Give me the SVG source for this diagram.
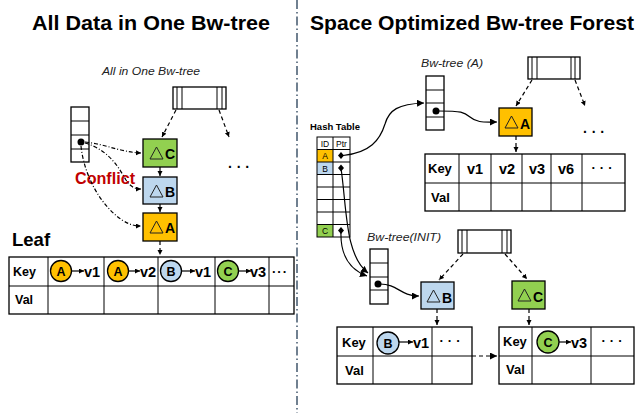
<svg xmlns="http://www.w3.org/2000/svg" width="637" height="413" viewBox="0 0 637 413">
<defs>
<marker id="ah" markerUnits="userSpaceOnUse" markerWidth="8" markerHeight="8" refX="7" refY="3.5" orient="auto"><path d="M0,0 L7,3.5 L0,7 z" fill="#000"/></marker>
<marker id="ahs" markerUnits="userSpaceOnUse" markerWidth="6" markerHeight="6" refX="5" refY="2.5" orient="auto"><path d="M0,0 L5,2.5 L0,5 z" fill="#000"/></marker>
</defs>
<style>
text{font-family:"Liberation Sans",Arial,sans-serif;fill:#000}
.title{font-size:21px;font-weight:bold}
.it{font-size:11px;font-style:italic;fill:#222}
.b{font-weight:bold}
.cell{fill:#fff;stroke:#000;stroke-width:1.3}
.thin{stroke:#000;stroke-width:1;fill:none}
.dd{stroke:#000;stroke-width:1.2;fill:none;stroke-dasharray:4,2,1,2}
.dash{stroke:#000;stroke-width:1.2;fill:none;stroke-dasharray:4,3}
.sol{stroke:#000;stroke-width:1.2;fill:none}
.dA{fill:#FFC000;stroke:#000;stroke-width:1.3}
.dB{fill:#BDD7EE;stroke:#000;stroke-width:1.3}
.dC{fill:#92D050;stroke:#000;stroke-width:1.3}
.tri{fill:none;stroke:#222;stroke-width:1}
.dl{font-size:14px;font-weight:bold}
.k{font-size:13px;font-weight:bold}
.v{font-size:14.5px;font-weight:bold}
.ck{font-size:12.5px;font-weight:bold}
</style>

<!-- divider -->
<line x1="297" y1="0" x2="297" y2="413" stroke="#708090" stroke-width="2" stroke-dasharray="9,3,1.5,3"/>

<!-- titles -->
<text class="title" x="32" y="30" textLength="238" lengthAdjust="spacingAndGlyphs">All Data in One Bw-tree</text>
<text class="title" x="310" y="30" textLength="324" lengthAdjust="spacingAndGlyphs">Space Optimized Bw-tree Forest</text>

<!-- ===== LEFT ===== -->
<text class="it" x="102" y="75" textLength="98" lengthAdjust="spacingAndGlyphs">All in One Bw-tree</text>

<g id="left-map">
<rect class="cell" x="71" y="107" width="18" height="55"/>
<line class="thin" x1="71" y1="121" x2="89" y2="121"/>
<line class="thin" x1="71" y1="135" x2="89" y2="135"/>
<line class="thin" x1="71" y1="149" x2="89" y2="149"/>
<circle cx="81" cy="142" r="3.5" fill="#000"/>
</g>

<g id="left-header">
<rect class="cell" x="173" y="87" width="53" height="22"/>
<line class="thin" x1="177" y1="87" x2="177" y2="109"/>
<line class="thin" x1="182" y1="87" x2="182" y2="109"/>
<line class="thin" x1="217" y1="87" x2="217" y2="109"/>
<line class="thin" x1="222" y1="87" x2="222" y2="109"/>
</g>

<g id="left-dC">
<rect class="dC" x="143" y="139" width="34" height="28"/>
<path class="tri" d="M150,159 L156.5,147 L163,159 Z"/>
<text class="dl" x="165" y="159">C</text>
</g>
<g id="left-dB">
<rect class="dB" x="143" y="177" width="34" height="27"/>
<path class="tri" d="M150,197 L156.5,185 L163,197 Z"/>
<text class="dl" x="165" y="197">B</text>
</g>
<g id="left-dA">
<rect class="dA" x="143" y="213" width="34" height="28"/>
<path class="tri" d="M150,233 L156.5,221 L163,233 Z"/>
<text class="dl" x="165" y="233">A</text>
</g>

<text x="228" y="172" font-size="14" class="b" letter-spacing="4">···</text>

<text x="75" y="184" font-size="16" font-weight="bold" style="fill:#C00000" textLength="60" lengthAdjust="spacingAndGlyphs">Conflict</text>

<text x="12" y="246" font-size="18.5" class="b">Leaf</text>

<g id="leaf-table">
<rect class="cell" x="9" y="257" width="285" height="57"/>
<line class="thin" x1="9" y1="286" x2="294" y2="286"/>
<line class="thin" x1="48" y1="257" x2="48" y2="314"/>
<line class="thin" x1="104" y1="257" x2="104" y2="314"/>
<line class="thin" x1="158" y1="257" x2="158" y2="314"/>
<line class="thin" x1="215" y1="257" x2="215" y2="314"/>
<line class="thin" x1="269" y1="257" x2="269" y2="314"/>
<text class="ck" x="13" y="276">Key</text>
<text class="ck" x="15" y="304">Val</text>
<circle class="dA" cx="61" cy="271" r="10.5"/><text class="ck" x="61" y="275.5" text-anchor="middle">A</text>
<line class="sol" x1="72" y1="271" x2="84" y2="271" marker-end="url(#ahs)"/>
<text class="v" x="84" y="276.5">v1</text>
<circle class="dA" cx="118" cy="271" r="10.5"/><text class="ck" x="118" y="275.5" text-anchor="middle">A</text>
<line class="sol" x1="129" y1="271" x2="140" y2="271" marker-end="url(#ahs)"/>
<text class="v" x="140" y="276.5">v2</text>
<circle class="dB" cx="171" cy="271" r="10.5"/><text class="ck" x="171" y="275.5" text-anchor="middle">B</text>
<line class="sol" x1="182" y1="271" x2="195" y2="271" marker-end="url(#ahs)"/>
<text class="v" x="195" y="276.5">v1</text>
<circle class="dC" cx="228" cy="271" r="10.5"/><text class="ck" x="228" y="275.5" text-anchor="middle">C</text>
<line class="sol" x1="239" y1="271" x2="251" y2="271" marker-end="url(#ahs)"/>
<text class="v" x="250" y="276.5">v3</text>
<text class="k" x="272" y="276" letter-spacing="1">···</text>
</g>

<g id="left-connectors">
<path class="dd" d="M85,142 C105,144 120,152 141,153" marker-end="url(#ahs)"/>
<path class="dd" d="M85,143 C110,150 120,170 126,180 C130,186 134,189 141,189" marker-end="url(#ahs)"/>
<path class="dd" d="M81,146 C84,175 100,205 122,220 C130,225 135,226 141,226" marker-end="url(#ahs)"/>
<line class="dash" x1="176" y1="110" x2="162" y2="137" marker-end="url(#ahs)"/>
<line class="dash" x1="219" y1="110" x2="229" y2="137" marker-end="url(#ahs)"/>
<line class="sol" x1="160" y1="167" x2="160" y2="176" stroke-width="1" marker-end="url(#ahs)"/>
<line class="sol" x1="160" y1="204" x2="160" y2="212" stroke-width="1" marker-end="url(#ahs)"/>
<line class="dash" x1="160" y1="241" x2="160" y2="255" stroke-width="1" stroke-dasharray="2,2" marker-end="url(#ahs)"/>
</g>

<!-- ===== RIGHT ===== -->
<text class="it" x="421" y="67" textLength="62" lengthAdjust="spacingAndGlyphs">Bw-tree (A)</text>

<g id="mapA">
<rect class="cell" x="426" y="76" width="18" height="54"/>
<line class="thin" x1="426" y1="90" x2="444" y2="90"/>
<line class="thin" x1="426" y1="103" x2="444" y2="103"/>
<line class="thin" x1="426" y1="117" x2="444" y2="117"/>
<circle cx="436" cy="111" r="3.5" fill="#000"/>
</g>

<g id="headerA">
<rect class="cell" x="528" y="57" width="52" height="22"/>
<line class="thin" x1="532" y1="57" x2="532" y2="79"/>
<line class="thin" x1="537" y1="57" x2="537" y2="79"/>
<line class="thin" x1="571" y1="57" x2="571" y2="79"/>
<line class="thin" x1="575" y1="57" x2="575" y2="79"/>
</g>

<g id="right-dA">
<rect class="dA" x="499" y="108" width="33" height="28"/>
<path class="tri" d="M505,128 L511.5,116 L518,128 Z"/>
<text class="dl" x="520" y="129">A</text>
</g>

<text x="583" y="137" font-size="14" class="b" letter-spacing="4">···</text>

<g id="tableA">
<rect class="cell" x="425" y="154" width="200" height="57"/>
<line class="thin" x1="425" y1="183" x2="625" y2="183"/>
<line class="thin" x1="459" y1="154" x2="459" y2="211"/>
<line class="thin" x1="491" y1="154" x2="491" y2="211"/>
<line class="thin" x1="522" y1="154" x2="522" y2="211"/>
<line class="thin" x1="551" y1="154" x2="551" y2="211"/>
<line class="thin" x1="582" y1="154" x2="582" y2="211"/>
<text class="k" x="428" y="173" font-size="14">Key</text>
<text class="k" x="431" y="202" font-size="14">Val</text>
<text class="v" x="475" y="174" text-anchor="middle">v1</text>
<text class="v" x="507" y="174" text-anchor="middle">v2</text>
<text class="v" x="537" y="174" text-anchor="middle">v3</text>
<text class="v" x="566" y="174" text-anchor="middle">v6</text>
<text class="k" x="604" y="172" font-size="14" text-anchor="middle" letter-spacing="4">···</text>
</g>

<text x="310" y="130" font-size="9.5" class="b">Hash Table</text>
<g id="hash-table">
<rect x="317" y="149.5" width="16" height="12.5" fill="#FFC000"/>
<rect x="317" y="162" width="16" height="12.5" fill="#BDD7EE"/>
<rect x="317" y="224.5" width="16" height="12.5" fill="#92D050"/>
<rect class="thin" x="317" y="137" width="33" height="100" stroke-width="1.2"/>
<line class="thin" x1="333" y1="137" x2="333" y2="237"/>
<line class="thin" x1="317" y1="149.5" x2="350" y2="149.5"/>
<line class="thin" x1="317" y1="162" x2="350" y2="162"/>
<line class="thin" x1="317" y1="174.5" x2="350" y2="174.5"/>
<line class="thin" x1="317" y1="187" x2="350" y2="187"/>
<line class="thin" x1="317" y1="199.5" x2="350" y2="199.5"/>
<line class="thin" x1="317" y1="212" x2="350" y2="212"/>
<line class="thin" x1="317" y1="224.5" x2="350" y2="224.5"/>
<text x="325" y="147" font-size="8.5" text-anchor="middle">ID</text>
<text x="341.5" y="147" font-size="8.5" text-anchor="middle">Ptr</text>
<text x="325" y="159" font-size="8.5" text-anchor="middle">A</text>
<text x="325" y="171.5" font-size="8.5" text-anchor="middle">B</text>
<text x="325" y="234" font-size="8.5" text-anchor="middle">C</text>
<path d="M341,152 L344,155.5 L341,159 L338,155.5 Z" fill="#000"/>
<path d="M341,164.5 L344,168 L341,171.5 L338,168 Z" fill="#000"/>
<path d="M341,227 L344,230.5 L341,234 L338,230.5 Z" fill="#000"/>
</g>

<text class="it" x="367" y="241" textLength="74" lengthAdjust="spacingAndGlyphs">Bw-tree(INIT)</text>

<g id="mapINIT">
<rect class="cell" x="370" y="249" width="18" height="55"/>
<line class="thin" x1="370" y1="263" x2="388" y2="263"/>
<line class="thin" x1="370" y1="277" x2="388" y2="277"/>
<line class="thin" x1="370" y1="290" x2="388" y2="290"/>
<circle cx="378" cy="284" r="3.5" fill="#000"/>
</g>

<g id="headerINIT">
<rect class="cell" x="458" y="230" width="53" height="23"/>
<line class="thin" x1="462" y1="230" x2="462" y2="253"/>
<line class="thin" x1="467" y1="230" x2="467" y2="253"/>
<line class="thin" x1="502" y1="230" x2="502" y2="253"/>
<line class="thin" x1="507" y1="230" x2="507" y2="253"/>
</g>

<g id="right-dB">
<rect class="dB" x="421" y="282" width="33" height="27"/>
<path class="tri" d="M427,302 L433.5,290 L440,302 Z"/>
<text class="dl" x="442" y="303">B</text>
</g>
<g id="right-dC">
<rect class="dC" x="512" y="281" width="33" height="28"/>
<path class="tri" d="M518,301 L524.5,289 L531,301 Z"/>
<text class="dl" x="533" y="302">C</text>
</g>

<g id="tableB">
<rect class="cell" x="337" y="327" width="135" height="57"/>
<line class="thin" x1="337" y1="356" x2="472" y2="356"/>
<line class="thin" x1="373" y1="327" x2="373" y2="384"/>
<line class="thin" x1="432" y1="327" x2="432" y2="384"/>
<text class="k" x="342" y="347">Key</text>
<text class="k" x="345" y="375">Val</text>
<circle class="dB" cx="388" cy="343" r="11"/><text class="ck" x="388" y="347.5" text-anchor="middle">B</text>
<line class="sol" x1="399" y1="342" x2="413" y2="342" marker-end="url(#ahs)"/>
<text class="v" x="413" y="348">v1</text>
<text class="k" x="452" y="345" text-anchor="middle" letter-spacing="4">···</text>
</g>

<g id="tableC">
<rect class="cell" x="499" y="327" width="135" height="57"/>
<line class="thin" x1="499" y1="356" x2="634" y2="356"/>
<line class="thin" x1="532" y1="327" x2="532" y2="384"/>
<line class="thin" x1="591" y1="327" x2="591" y2="384"/>
<text class="k" x="503" y="346">Key</text>
<text class="k" x="506" y="374">Val</text>
<circle class="dC" cx="548" cy="342" r="11"/><text class="ck" x="548" y="346.5" text-anchor="middle">C</text>
<line class="sol" x1="559" y1="342" x2="571" y2="342" marker-end="url(#ahs)"/>
<text class="v" x="571" y="347.5">v3</text>
<text class="k" x="614" y="345" text-anchor="middle" letter-spacing="4">···</text>
</g>

<g id="right-connectors">
<path class="sol" d="M343,155.5 C370,153 380,140 385,124 C389,110 398,104 424,103" marker-end="url(#ah)"/>
<path class="sol" d="M341,168 C347,210 345,255 368,273" marker-end="url(#ah)"/>
<path class="sol" d="M341,231 C340,255 350,270 367,276" marker-end="url(#ah)"/>
<path class="sol" d="M438,111 C462,111 464,112 470,117 C477,123 484,122 497,122" marker-end="url(#ah)"/>
<path class="sol" d="M380,284 C398,284 400,296 419,296" marker-end="url(#ah)"/>
<line class="dash" x1="532" y1="80" x2="516" y2="106" marker-end="url(#ahs)"/>
<line class="dash" x1="575" y1="80" x2="585" y2="106" marker-end="url(#ahs)"/>
<line class="dash" x1="516" y1="136" x2="516" y2="152" stroke-dasharray="3,2" marker-end="url(#ahs)"/>
<line class="dash" x1="463" y1="254" x2="439" y2="280" marker-end="url(#ahs)"/>
<line class="dash" x1="505" y1="254" x2="527" y2="279" marker-end="url(#ahs)"/>
<line class="dash" x1="437" y1="309" x2="437" y2="325" stroke-dasharray="3,2" marker-end="url(#ahs)"/>
<line class="dash" x1="529" y1="309" x2="529" y2="325" stroke-dasharray="3,2" marker-end="url(#ahs)"/>
<line class="dash" x1="472" y1="356" x2="497" y2="356" marker-end="url(#ah)"/>
</g>
</svg>
